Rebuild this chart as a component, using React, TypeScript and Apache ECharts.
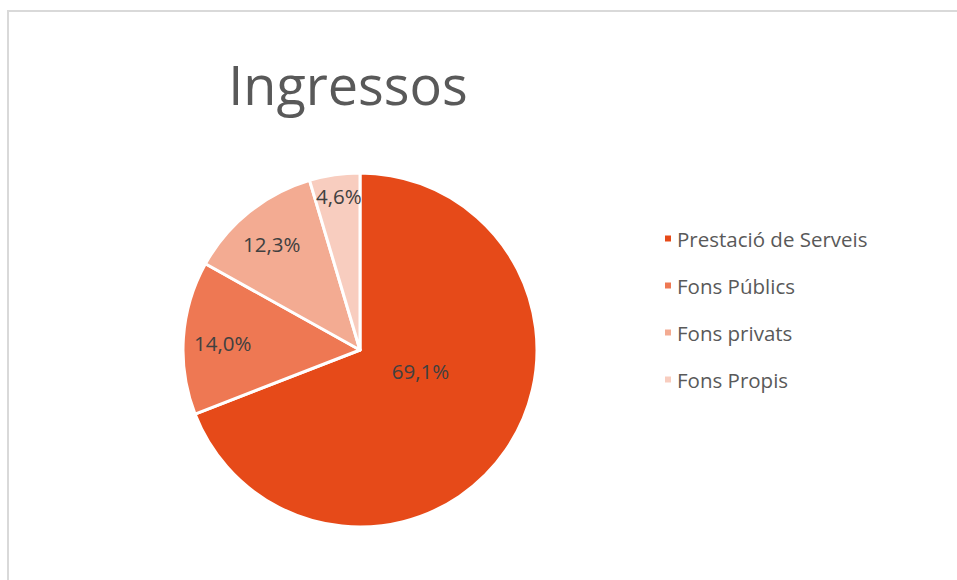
import React, { useEffect, useRef } from "react";
import * as echarts from "echarts";

const categories = ["Prestació de Serveis", "Fons Públics", "Fons privats", "Fons Propis"];
const values = [69.1, 14.0, 12.3, 4.6];
const colors = ["#E64A19", "#EE7853", "#F3AB92", "#F8CDBF"];
const titleText = "Ingressos";
// label nudges from ECharts' inside position toward where the reference places them
const labelOffsets = [
  [-15, -31],
  [-46, -1],
  [-31, -35],
  [-8, -63],
];

export default function App() {
  const ref = useRef<HTMLDivElement>(null);
  useEffect(() => {
    if (!ref.current) return;
    const chart = echarts.init(ref.current, null, { renderer: "svg" });
    chart.setOption({
      animation: false,
      backgroundColor: "#ffffff",
      title: {
        text: titleText,
        left: 343,
        textAlign: "center",
        top: 52,
        textStyle: {
          fontFamily: "Open Sans",
          fontSize: 54,
          fontWeight: "normal",
          color: "#595959",
        },
      },
      graphic: [
        {
          type: "rect",
          shape: { x: 8, y: 11, width: 1000, height: 1000 },
          style: { fill: "none", stroke: "#d9d9d9", lineWidth: 2 },
          silent: true,
        },
      ],
      legend: {
        orient: "vertical",
        left: 658,
        top: 223,
        itemWidth: 8,
        itemHeight: 8,
        itemGap: 26,
        icon: "rect",
        data: categories,
        textStyle: {
          fontFamily: "Open Sans",
          fontSize: 20.5,
          lineHeight: 20,
          color: "#595959",
        },
      },
      series: [
        {
          type: "pie",
          center: [360, 350],
          radius: [0, 177],
          startAngle: 90,
          clockwise: true,
          label: {
            show: true,
            position: "inside",
            formatter: (p: any) => p.value.toFixed(1).replace(".", ",") + "%",
            fontFamily: "Open Sans",
            fontSize: 20.5,
            color: "#404040",
          },
          labelLine: { show: false },
          labelLayout: (params: any) => {
            const o = labelOffsets[params.dataIndex] || [0, 0];
            return { dx: o[0], dy: o[1] };
          },
          itemStyle: { borderColor: "#ffffff", borderWidth: 3 },
          emphasis: { disabled: true },
          data: categories.map((name, i) => ({
            name,
            value: values[i],
            itemStyle: { color: colors[i] },
          })),
        },
      ],
    });
    return () => chart.dispose();
  }, []);
  return (
    <div
      ref={ref}
      style={{ position: "absolute", left: 0, top: 0, width: 957, height: 580 }}
    />
  );
}
